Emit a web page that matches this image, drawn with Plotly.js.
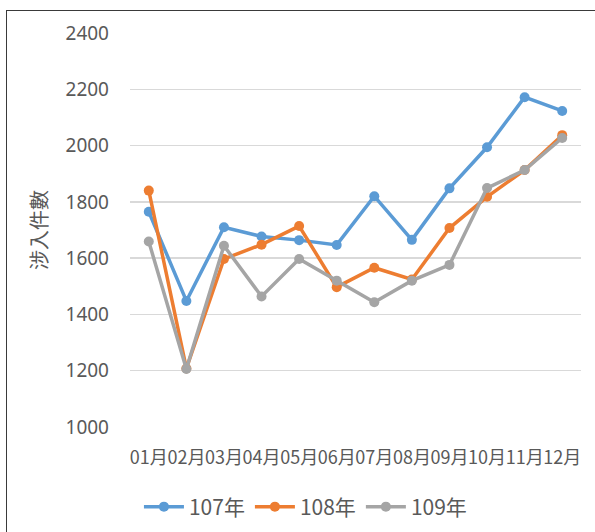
<!DOCTYPE html>
<html>
<head>
<meta charset="utf-8">
<script src="https://cdn.plot.ly/plotly-3.0.1.min.js"></script>
<style>
  html, body { margin: 0; padding: 0; background: #fff; }
  #wrap { position: relative; width: 595px; height: 532px; overflow: hidden; }
  #frame { position: absolute; left: 6px; top: 10px; width: 620px; height: 560px; border: 1.5px solid #3a3a3a; box-sizing: border-box; }
  #chart { position: absolute; left: 0; top: 0; width: 595px; height: 532px; }
</style>
</head>
<body>
<div id="wrap">
  <div id="frame"></div>
  <div id="chart"></div>
</div>
<script>
const months = ["01月","02月","03月","04月","05月","06月","07月","08月","09月","10月","11月","12月"];
const seriesNames = ["107年","108年","109年"];
const y107 = [1765, 1448, 1710, 1677, 1664, 1647, 1820, 1665, 1848, 1994, 2172, 2123];
const y108 = [1840, 1208, 1597, 1648, 1714, 1497, 1566, 1524, 1707, 1818, 1913, 2037];
const y109 = [1659, 1206, 1644, 1464, 1597, 1520, 1443, 1520, 1576, 1849, 1913, 2027];
const colors = ["#5B9BD5", "#ED7D31", "#A5A5A5"];
const allY = [y107, y108, y109];

const traces = allY.map((ys, i) => ({
  type: "scatter",
  mode: "lines+markers",
  name: seriesNames[i],
  x: months,
  y: ys,
  line: { color: colors[i], width: 3.5 },
  marker: { color: colors[i], size: 10 }
}));

const layout = {
  width: 595,
  height: 532,
  margin: { l: 130, r: 14, t: 33, b: 105, autoexpand: false },
  paper_bgcolor: "rgba(0,0,0,0)",
  plot_bgcolor: "rgba(0,0,0,0)",
  font: { family: "Noto Sans CJK TC, Noto Sans, sans-serif", color: "#595959" },
  showlegend: true,
  legend: {
    orientation: "h",
    x: 0.389, xanchor: "center",
    y: -0.203, yanchor: "middle",
    font: { size: 21, color: "#595959", family: "Noto Sans CJK TC, sans-serif" },
    itemwidth: 40,
    tracegroupgap: 0
  },
  xaxis: {
    type: "category",
    range: [-0.5, 11.5],
    showgrid: false,
    zeroline: false,
    showline: false,
    ticks: "",
    tickangle: 0,
    automargin: false,
    ticklabelstandoff: 18,
    tickfont: { size: 18, color: "#595959", family: "Noto Sans CJK TC, sans-serif" }
  },
  yaxis: {
    range: [1000, 2400],
    dtick: 200,
    tick0: 1000,
    showgrid: true,
    gridcolor: "#D9D9D9",
    gridwidth: 1.3,
    zeroline: false,
    showline: false,
    ticks: "",
    automargin: false,
    ticklabelstandoff: 20,
    tickfont: { size: 19, color: "#595959", family: "Noto Sans, sans-serif" },
    title: {
      text: "涉入件數",
      standoff: 12,
      font: { size: 20, color: "#595959", family: "Noto Sans CJK TC, sans-serif" }
    }
  }
};

Plotly.newPlot("chart", traces, layout, { displayModeBar: false, staticPlot: true });
</script>
</body>
</html>
